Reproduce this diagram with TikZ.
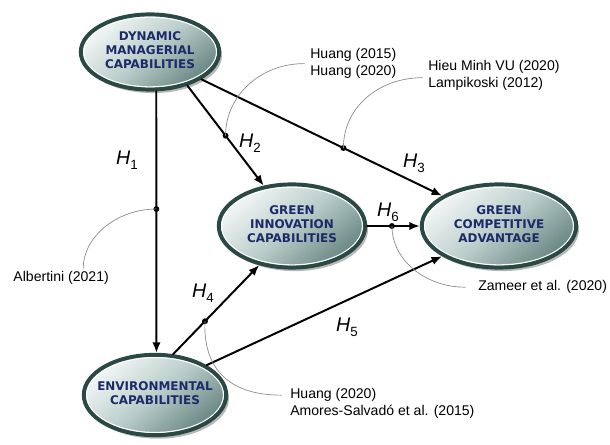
\documentclass[tikz,border=0pt]{standalone}
\usepackage{fontspec}
\setmainfont{Liberation Sans}
\newfontfamily\constructfont{DejaVu Sans}
\usetikzlibrary{shapes.geometric,arrows.meta,shadows,calc}

\definecolor{rimgreen}{HTML}{2A4944}
\definecolor{fillhi}{HTML}{F3F7F6}
\definecolor{fillmid}{HTML}{BACDCA}
\definecolor{filllo}{HTML}{688682}
\definecolor{labelnavy}{HTML}{1C2A6A}
\definecolor{citegray}{HTML}{8C8C8C}

\newcommand{\hyplabel}[1]{\textit{H}\raisebox{-0.45ex}{\fontsize{9.5}{9.5}\selectfont #1}}
\newcommand{\constext}[1]{\makebox[0pt]{\begin{tabular}{@{}c@{}}#1\end{tabular}}}

\tikzset{
  construct/.style={ellipse, draw=rimgreen, line width=2.8pt, inner sep=0pt,
    top color=fillhi, bottom color=filllo, middle color=fillmid, shading angle=40,
    drop shadow={shadow xshift=2pt, shadow yshift=-2.5pt, opacity=0.28, fill=black},
    font=\constructfont\bfseries\fontsize{8.5}{10}\selectfont, text=labelnavy,
    path picture={\draw[white, line width=0.9pt]
      let \p1=(path picture bounding box.north east), \p2=(path picture bounding box.center)
      in (\p2) ellipse [x radius=\x1-\x2-1.9pt, y radius=\y1-\y2-1.9pt];}},
  hyp/.style={line width=1.4pt, -{Latex[length=7.5pt,width=6pt]}},
  hyptext/.style={font=\fontsize{14}{15}\selectfont},
  cite/.style={font=\fontsize{10}{12.1}\selectfont, align=left, inner sep=0pt, anchor=west},
  citeline/.style={citegray, line width=0.5pt},
}

\begin{document}
\begin{tikzpicture}[line cap=round]
  \useasboundingbox (0,0) rectangle (15.25,-11.125);

  % 四个构念
  \node[construct, minimum width=3.46cm, minimum height=1.88cm] (dmc) at (3.75,-1.30)
    {\constext{DYNAMIC\\MANAGERIAL\\CAPABILITIES}};
  \node[construct, minimum width=3.66cm, minimum height=2.08cm] (gic) at (7.30,-5.65)
    {\constext{GREEN\\INNOVATION\\CAPABILITIES}};
  \node[construct, minimum width=3.86cm, minimum height=2.08cm] (gca) at (12.475,-5.65)
    {\constext{GREEN\\COMPETITIVE\\ADVANTAGE}};
  \node[construct, minimum width=3.56cm, minimum height=2.01cm] (ec) at (3.875,-9.875)
    {\constext{ENVIRONMENTAL\\CAPABILITIES}};

  % 假设路径
  \draw[hyp] (dmc.-81) -- coordinate[pos=0.45] (dot1) (ec.88);
  \draw[hyp] (dmc.-42) -- coordinate[pos=0.50] (dot2) (gic.125);
  \draw[hyp] (dmc.-28) -- coordinate[pos=0.59] (dot3) (gca.152);
  \draw[hyp] (ec.66) -- coordinate[pos=0.37] (dot4) (gic.230);
  \draw[hyp] (ec.30) -- (gca.208);
  \draw[hyp] (gic.east) -- coordinate[pos=0.47] (dot6) (gca.west);
  \foreach \d in {dot1,dot2,dot3,dot4,dot6}
    \fill (\d) circle (2.1pt);

  % 路径标注
  \node[hyptext] (h1) at (3.175,-4.00) {\hyplabel{1}};
  \node[hyptext] (h2) at (6.25,-3.575) {\hyplabel{2}};
  \node[hyptext] (h3) at (10.35,-4.075) {\hyplabel{3}};
  \node[hyptext] (h4) at (5.075,-7.325) {\hyplabel{4}};
  \node[hyptext] (h5) at (8.675,-8.175) {\hyplabel{5}};
  \node[hyptext] (h6) at (9.70,-5.30) {\hyplabel{6}};

  % 文献来源
  \node[cite] (cite1) at (0.33,-6.95) {Albertini (2021)};
  \node[cite] (cite2) at (7.75,-1.59) {Huang (2015)\\Huang (2020)};
  \node[cite] (cite3) at (10.70,-1.89) {Hieu Minh VU (2020)\\Lampikoski (2012)};
  \node[cite] (cite4) at (7.25,-10.09) {Huang (2020)\\Amores-Salvadó et al. (2015)};
  \node[cite] (cite6) at (11.95,-7.18) {Zameer et al. (2020)};

  \draw[citeline] (dot1) .. controls +(-1.0,0) and +(0,0.78) .. ([xshift=1.75cm,yshift=2pt]cite1.north west);
  \draw[citeline] (dot2) .. controls +(0,1.0) and +(-1.1,0) .. ([xshift=-4pt]cite2.west);
  \draw[citeline] (dot3) .. controls +(0,1.03) and +(-1.08,0) .. ([xshift=-4pt,yshift=-1.5pt]cite3.west);
  \draw[citeline] (dot4) .. controls +(-0.05,-1.1) and +(-1.4,0) .. ([xshift=-6pt,yshift=6pt]cite4.west);
  \draw[citeline] (dot6) .. controls +(0,-0.85) and +(-1.0,0) .. ([xshift=-9pt]cite6.west);
\end{tikzpicture}
\end{document}
